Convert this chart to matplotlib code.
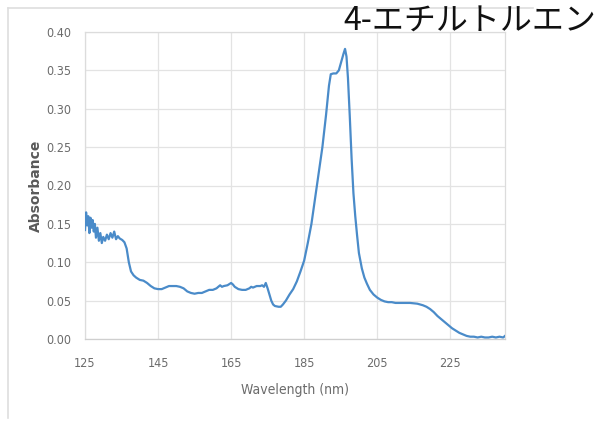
import matplotlib
matplotlib.use("Agg")
import matplotlib.pyplot as plt
from matplotlib.lines import Line2D

title = "4-エチルトルエン"
x_label = "Wavelength (nm)"
y_label = "Absorbance"
x_ticks = [125, 145, 165, 185, 205, 225]
y_ticks = [0.00, 0.05, 0.10, 0.15, 0.20, 0.25, 0.30, 0.35, 0.40]

wavelength = [125.0, 125.3, 125.6, 125.9, 126.2, 126.5, 126.8, 127.1, 127.4, 127.7,
              128.0, 128.4, 128.8, 129.2, 129.6, 130.0, 130.5, 131.0, 131.5, 132.0,
              132.5, 133.0, 133.5, 134.0, 134.5, 135.2, 135.8, 136.4, 137.0, 137.6,
              138.3, 139.0, 140.0, 141.0, 142.0, 143.0, 144.0, 145.0, 146.0, 147.0,
              148.0, 149.0, 150.0, 151.0, 152.0, 153.0, 154.0, 155.0, 156.0, 157.0,
              158.0, 159.0, 160.0, 161.0, 162.0, 162.5, 163.0, 164.0, 165.0, 165.5,
              166.0, 167.0, 168.0, 169.0, 170.0, 170.5, 171.0, 172.0, 173.0, 173.5,
              174.0, 174.5, 175.0, 175.5, 176.0, 176.5, 177.0, 178.0, 178.6, 179.2,
              180.0, 181.0, 182.0, 183.0, 184.0, 185.0, 186.0, 187.0, 188.0, 189.0,
              190.0, 191.0, 191.8, 192.3, 193.0, 193.8, 194.5, 195.2, 195.8, 196.2,
              196.6, 197.0, 197.5, 198.0, 198.5, 199.0, 199.5, 200.0, 200.8, 201.5,
              202.2, 203.0, 204.0, 205.0, 206.0, 207.0, 208.0, 209.0, 210.0, 212.0,
              214.0, 216.0, 217.5, 218.5, 219.5, 220.5, 221.5, 222.5, 223.5, 224.5,
              225.5, 226.5, 227.5, 228.5, 229.5, 230.5, 231.5, 232.5, 233.5, 234.5,
              235.5, 236.5, 237.5, 238.5, 239.5, 240.0]
absorbance = [0.142, 0.165, 0.148, 0.160, 0.138, 0.158, 0.145, 0.155, 0.140, 0.150,
              0.132, 0.145, 0.128, 0.138, 0.125, 0.133, 0.128, 0.136, 0.130, 0.138,
              0.132, 0.140, 0.130, 0.134, 0.131, 0.129, 0.126, 0.118, 0.100, 0.088,
              0.083, 0.080, 0.077, 0.076, 0.073, 0.069, 0.066, 0.065, 0.065, 0.067,
              0.069, 0.069, 0.069, 0.068, 0.066, 0.062, 0.060, 0.059, 0.060, 0.060,
              0.062, 0.064, 0.064, 0.066, 0.070, 0.068, 0.069, 0.070, 0.073, 0.071,
              0.068, 0.065, 0.064, 0.064, 0.066, 0.068, 0.067, 0.069, 0.069, 0.070,
              0.068, 0.073, 0.066, 0.058, 0.050, 0.045, 0.043, 0.042, 0.042, 0.045,
              0.050, 0.058, 0.065, 0.075, 0.088, 0.102, 0.125, 0.150, 0.183, 0.215,
              0.250, 0.292, 0.330, 0.345, 0.346, 0.346, 0.350, 0.362, 0.372, 0.378,
              0.368, 0.340, 0.290, 0.235, 0.190, 0.160, 0.135, 0.112, 0.092, 0.080,
              0.072, 0.064, 0.058, 0.054, 0.051, 0.049, 0.048, 0.048, 0.047, 0.047,
              0.047, 0.046, 0.044, 0.042, 0.039, 0.035, 0.030, 0.026, 0.022, 0.018,
              0.014, 0.011, 0.008, 0.006, 0.004, 0.003, 0.003, 0.002, 0.003, 0.002,
              0.002, 0.003, 0.002, 0.003, 0.002, 0.004]

fig = plt.figure(figsize=(6.02, 4.21), dpi=100)
ax = fig.add_axes([85/602, 1-339/421, 420/602, 307/421])

ax.plot(wavelength, absorbance, color="#4a8bc9", linewidth=1.6, zorder=3)
ax.set_xlim(125, 240)
ax.set_ylim(0, 0.40)
ax.set_xticks(x_ticks)
ax.set_yticks(y_ticks)
ax.set_yticklabels([f"{v:.2f}" for v in y_ticks])
ax.grid(True, color="#e3e3e3", linewidth=0.9)
ax.set_axisbelow(True)
for s in ax.spines.values():
    s.set_color("#dcdcdc")
    s.set_linewidth(0.9)
ax.spines["bottom"].set_color("#cfcfcf")
ax.tick_params(axis="y", length=0, labelsize=9, colors="#6b6b6b", pad=10)
ax.tick_params(axis="x", length=0, labelsize=9, colors="#6b6b6b", pad=13)
for lab in ax.get_xticklabels() + ax.get_yticklabels():
    lab.set_family(["DejaVu Sans"])
    lab.set_fontstretch("condensed")

ax.set_xlabel(x_label, fontsize=10, color="#6b6b6b", va="top",
              family=["DejaVu Sans"], fontstretch="condensed")
ax.xaxis.set_label_coords(0.5, (339-383)/307)
ax.set_ylabel(y_label, fontsize=10, color="#595959", fontweight="bold",
              family=["DejaVu Sans"])
ax.yaxis.set_label_coords((43-85)/420, 0.5)

# chart frame (top and left edges)
fig.add_artist(Line2D([8/602, 533/602], [1-8/421, 1-8/421], color="#dedede", linewidth=1.2))
fig.add_artist(Line2D([8/602, 8/602], [1-8/421, 1-418/421], color="#dedede", linewidth=1.2))

fig.text(470/602, 1-22/421, title, fontsize=23, color="#111111", ha="center", va="center",
         family=["Noto Sans CJK JP", "DejaVu Sans"])

fig.savefig("out.png", dpi=100, facecolor="white")
